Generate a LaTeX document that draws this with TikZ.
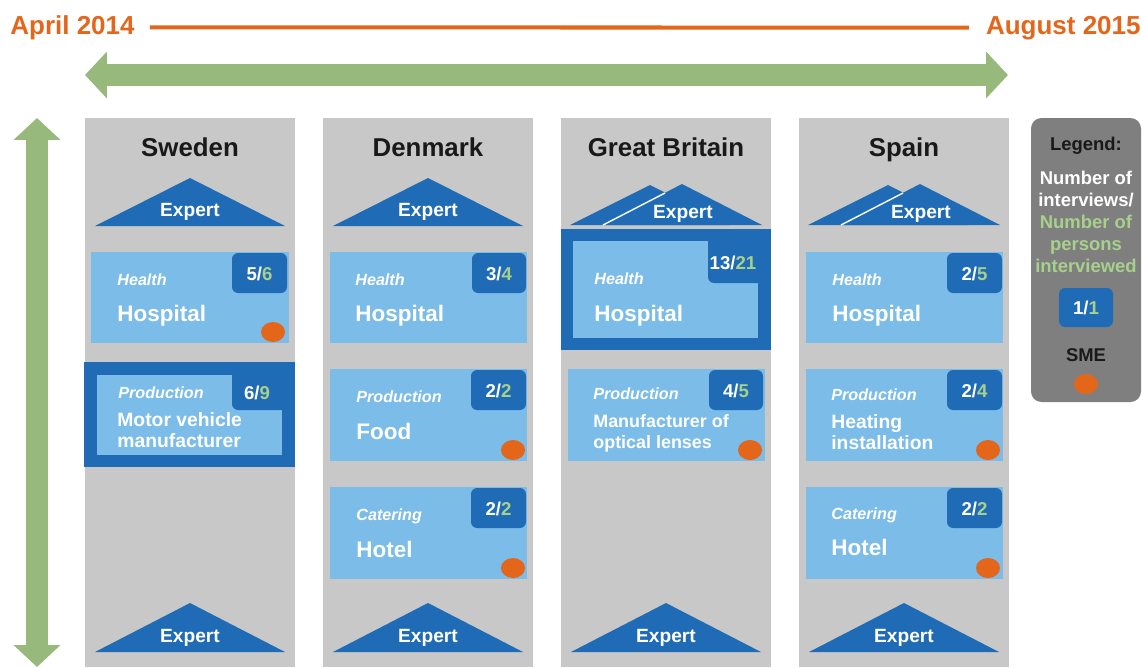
\documentclass[tikz,border=0pt]{standalone}
\usepackage{fontspec}
\setmainfont{Liberation Sans}
\usetikzlibrary{arrows.meta}
\definecolor{timeorange}{HTML}{E4661B}
\definecolor{arrowgreen}{HTML}{97BA7C}
\definecolor{numgreen}{HTML}{A8D08D}
\definecolor{darkblue}{HTML}{1F6BB5}
\definecolor{lightblue}{HTML}{7BBCE8}
\definecolor{colgrey}{HTML}{C8C8C8}
\definecolor{legendgrey}{HTML}{7F7F7F}

\begin{document}
\begin{tikzpicture}[
    x=0.02cm, y=-0.02cm,
    date/.style={
        inner sep=0pt,
        font=\fontsize{14.8}{17}\selectfont\bfseries,
        text=timeorange
    },
    country/.style={anchor=base, font=\fontsize{14.7}{17}\selectfont\bfseries, text=black!90},
    expert/.style={anchor=base, font=\fontsize{10.9}{13}\selectfont\bfseries, text=white},
    sector/.style={
        anchor=base west,
        inner sep=0pt,
        font=\fontsize{9.2}{11}\selectfont\bfseries\itshape,
        text=white
    },
    place/.style={
        anchor=base west,
        inner sep=0pt,
        align=left,
        font=\fontsize{12.8}{15}\selectfont\bfseries,
        text=white
    },
    placesmall/.style={place, font=\fontsize{11}{11.8}\selectfont\bfseries},
    placetiny/.style={place, font=\fontsize{10.2}{11.8}\selectfont\bfseries},
    count/.style={font=\fontsize{10.6}{12}\selectfont\bfseries, text=white},
    card/.style={fill=lightblue},
    frame/.style={fill=darkblue},
    badge/.style={fill=darkblue, rounded corners=3.5pt},
    sme/.style={fill=timeorange},
    bigarrow/.style={
        arrowgreen,
        line width=13pt,
        {Triangle[length=12.5pt,width=26pt]}-{Triangle[length=12.5pt,width=26pt]}
    },
    legendtext/.style={font=\fontsize{10.5}{12.5}\selectfont\bfseries, align=center}
]

\useasboundingbox (0,0) rectangle (1144,667);

% time line
\node[date, anchor=base west] (start) at (10,34) {April 2014};
\node[date, anchor=base east] (end) at (1141,34) {August 2015};
\draw[timeorange, line width=2.3pt, shorten <=8.5pt, shorten >=9.5pt] (start) -- (end);

% green arrows
\coordinate (spanL) at (85,75);
\coordinate (spanR) at (1008,75);
\coordinate (spanT) at (37,118);
\coordinate (spanB) at (37,667);
\draw[bigarrow] (spanL) -- (spanR);
\draw[bigarrow] (spanT) -- (spanB);

% columns
\fill[colgrey] (85,118) rectangle (295,667);
\fill[colgrey] (323,118) rectangle (533,667);
\fill[colgrey] (561,118) rectangle (771,667);
\fill[colgrey] (799,118) rectangle (1009,667);

\node[country] (sweden) at (190,156) {Sweden};
\node[country] (denmark) at (428,156) {Denmark};
\node[country] (britain) at (666,156) {Great Britain};
\node[country] (spain) at (904,156) {Spain};

% experts on top
\fill[darkblue] (95,226) -- (190,178) -- (285,226) -- cycle;
\fill[darkblue] (333,226) -- (428,178) -- (523,226) -- cycle;
\fill[darkblue] (570,225) -- (650,185) -- (730,225) -- cycle;
\fill[darkblue] (603,225) -- (682,184) -- (762,225) -- cycle;
\draw[white, line width=0.8pt] (603,225) -- (665,193);
\fill[darkblue] (808,225) -- (888,185) -- (968,225) -- cycle;
\fill[darkblue] (841,225) -- (920,184) -- (1000,225) -- cycle;
\draw[white, line width=0.8pt] (841,225) -- (903,193);

\node[expert] (swExpertTop) at (190,216) {Expert};
\node[expert] (dkExpertTop) at (428,216) {Expert};
\node[expert] (gbExpertTop) at (683,218) {Expert};
\node[expert] (esExpertTop) at (921,218) {Expert};

% experts at the bottom
\fill[darkblue] (95,652) -- (190,603) -- (285,652) -- cycle;
\fill[darkblue] (333,652) -- (428,603) -- (523,652) -- cycle;
\fill[darkblue] (571,652) -- (666,603) -- (761,652) -- cycle;
\fill[darkblue] (809,652) -- (904,603) -- (999,652) -- cycle;

\node[expert] (swExpertBot) at (190,642) {Expert};
\node[expert] (dkExpertBot) at (428,642) {Expert};
\node[expert] (gbExpertBot) at (666,642) {Expert};
\node[expert] (esExpertBot) at (904,642) {Expert};

% Sweden
\fill[card] (91,252) rectangle (289,343);
\fill[badge] (232,253) rectangle (287,293);
\node[count] (swHealthNum) at (259.5,274) {5/\textcolor{numgreen}{6}};
\node[sector] (swHealth) at (117,285) {Health};
\node[place] (swHospital) at (117,321) {Hospital};
\fill[sme] (273,332) ellipse [x radius=12, y radius=10];

\fill[frame] (84,362) rectangle (295,467);
\fill[card] (97,375) rectangle (282,455);
\fill[badge] (232,366) rectangle (290,410);
\node[count] (swProdNum) at (257,393) {6/\textcolor{numgreen}{9}};
\node[sector] (swProd) at (118,398) {Production};
\node[placesmall] (swMotor) at (117,447) {Motor vehicle\\manufacturer};

% Denmark
\fill[card] (330,252) rectangle (527,343);
\fill[badge] (472,253) rectangle (526,293);
\node[count] (dkHealthNum) at (499,274) {3/\textcolor{numgreen}{4}};
\node[sector] (dkHealth) at (355,285) {Health};
\node[place] (dkHospital) at (355,321) {Hospital};

\fill[card] (330,369) rectangle (527,461);
\fill[badge] (471,370) rectangle (526,410);
\node[count] (dkProdNum) at (498.5,391) {2/\textcolor{numgreen}{2}};
\node[sector] (dkProd) at (356,402) {Production};
\node[place] (dkFood) at (356,439) {Food};
\fill[sme] (513,450) ellipse [x radius=12, y radius=10];

\fill[card] (330,487) rectangle (527,579);
\fill[badge] (471,488) rectangle (526,528);
\node[count] (dkCatNum) at (498.5,509) {2/\textcolor{numgreen}{2}};
\node[sector] (dkCat) at (356,520) {Catering};
\node[place] (dkHotel) at (356,557) {Hotel};
\fill[sme] (513,568) ellipse [x radius=12, y radius=10];

% Great Britain
\fill[frame] (561,229) rectangle (771,350);
\fill[card] (573,241) rectangle (758,338);
\fill[badge] (708,235) rectangle (764,283);
\node[count] (gbHealthNum) at (733,263) {13/\textcolor{numgreen}{21}};
\node[sector] (gbHealth) at (594,284) {Health};
\node[place] (gbHospital) at (594,321) {Hospital};

\fill[card] (568,369) rectangle (765,461);
\fill[badge] (709,370) rectangle (763,410);
\node[count] (gbProdNum) at (736,391) {4/\textcolor{numgreen}{5}};
\node[sector] (gbProd) at (593,399) {Production};
\node[placetiny] (gbLenses) at (593,448) {Manufacturer of\\optical lenses};
\fill[sme] (750,450) ellipse [x radius=12, y radius=10];

% Spain
\fill[card] (806,252) rectangle (1003,343);
\fill[badge] (947,253) rectangle (1002,293);
\node[count] (esHealthNum) at (974.5,274) {2/\textcolor{numgreen}{5}};
\node[sector] (esHealth) at (832,285) {Health};
\node[place] (esHospital) at (832,321) {Hospital};

\fill[card] (806,369) rectangle (1003,461);
\fill[badge] (947,370) rectangle (1002,410);
\node[count] (esProdNum) at (974.5,391) {2/\textcolor{numgreen}{4}};
\node[sector] (esProd) at (831,400) {Production};
\node[placesmall] (esHeating) at (831,449) {Heating\\installation};
\fill[sme] (988,450) ellipse [x radius=12, y radius=10];

\fill[card] (806,487) rectangle (1003,579);
\fill[badge] (947,488) rectangle (1002,528);
\node[count] (esCatNum) at (974.5,509) {2/\textcolor{numgreen}{2}};
\node[sector] (esCat) at (831,519) {Catering};
\node[place] (esHotel) at (831,555) {Hotel};
\fill[sme] (988,568) ellipse [x radius=12, y radius=10];

% legend
\fill[legendgrey, rounded corners=6pt] (1031,118) rectangle (1141,402);
\node[legendtext, text=black!90, anchor=base] (legTitle) at (1086,150) {Legend:};
\node[legendtext, text=white] (legText) at (1086,221.5)
    {Number of\\interviews/\\\color{numgreen}Number of\\\color{numgreen}persons\\\color{numgreen}interviewed};
\fill[badge] (1059,288) rectangle (1113,327);
\node[count] (legNum) at (1086,308) {1/\textcolor{numgreen}{1}};
\node[legendtext, text=black!90] (legSme) at (1086,355) {SME};
\fill[sme] (1086,384) ellipse [x radius=12, y radius=10];

\end{tikzpicture}
\end{document}
